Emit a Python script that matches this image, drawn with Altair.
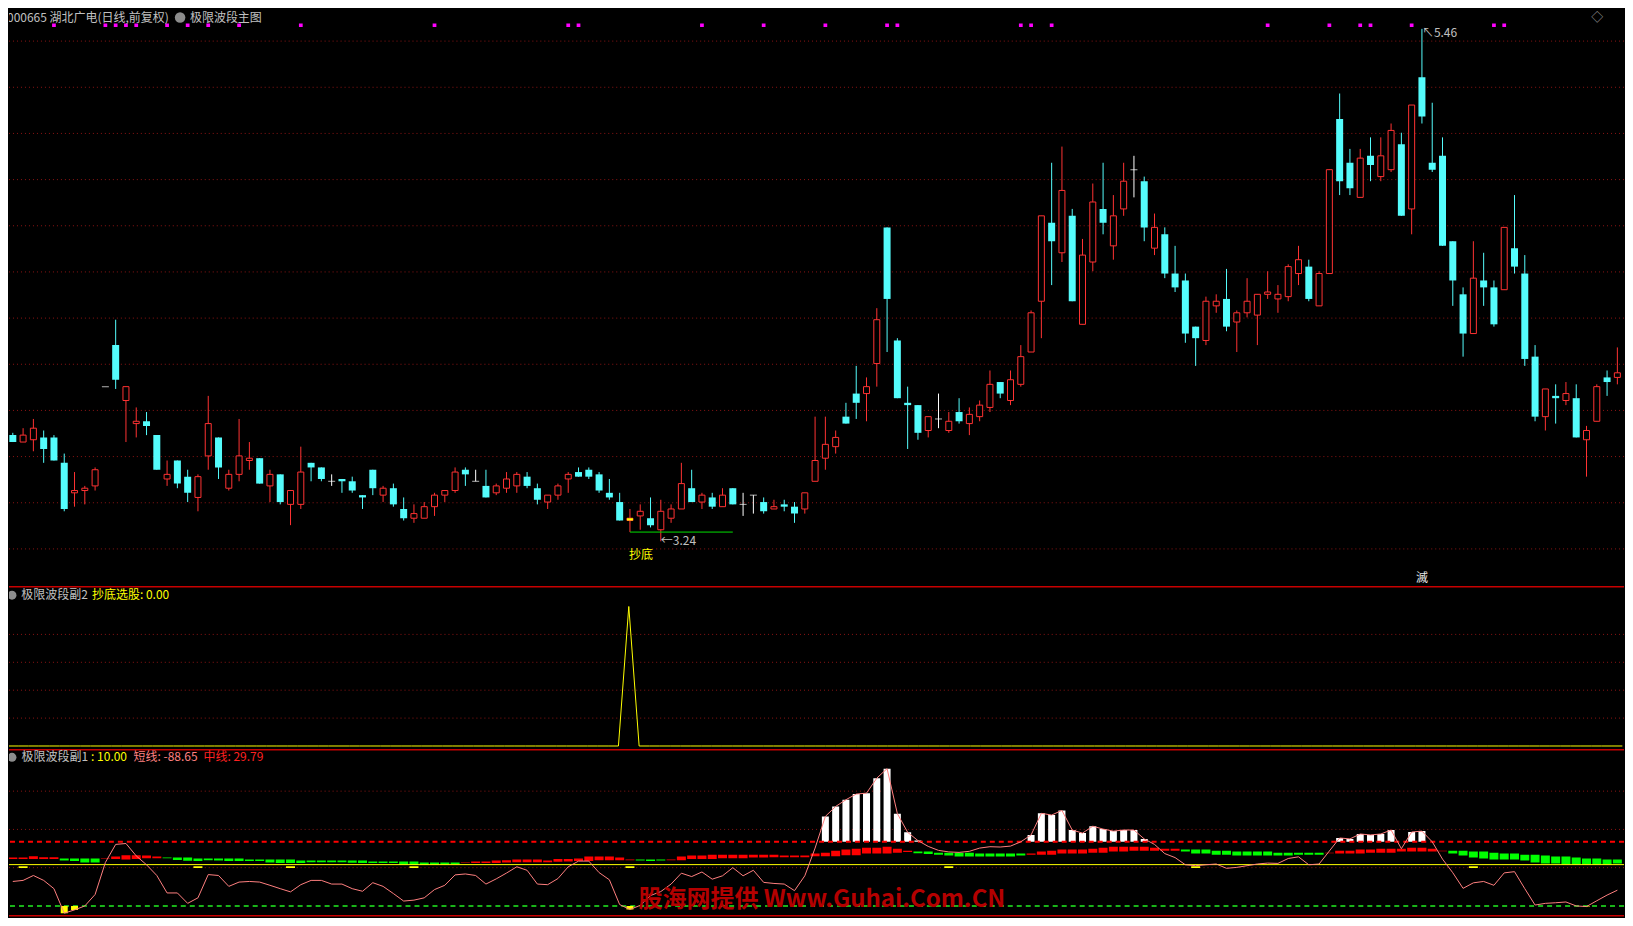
import altair as alt
import numpy as np
import pandas as pd

# ---------------- data ----------------
opens = [3.70,3.67,3.68,3.69,3.69,3.58,3.45,3.46,3.48,3.91,
4.09,3.85,3.75,3.76,3.70,3.51,3.59,3.52,3.43,3.61,
3.69,3.47,3.53,3.59,3.60,3.48,3.53,3.40,3.40,3.58,
3.56,3.50,3.51,3.50,3.44,3.55,3.44,3.47,3.38,3.34,
3.34,3.39,3.44,3.46,3.55,3.50,3.48,3.45,3.47,3.48,
3.52,3.47,3.41,3.44,3.51,3.54,3.55,3.53,3.45,3.41,
3.33,3.35,3.34,3.29,3.34,3.38,3.47,3.41,3.43,3.39,
3.47,3.40,3.44,3.41,3.38,3.40,3.39,3.38,3.50,3.60,
3.65,3.78,3.88,3.88,4.01,4.60,4.11,3.84,3.83,3.72,
3.77,3.72,3.80,3.75,3.78,3.82,3.93,3.85,3.92,4.06,
4.28,4.62,4.49,4.65,4.18,4.45,4.68,4.52,4.68,4.85,
4.80,4.51,4.57,4.40,4.37,4.17,4.11,4.26,4.29,4.19,
4.23,4.22,4.31,4.29,4.30,4.40,4.43,4.26,4.40,5.07,
4.88,4.73,4.91,4.82,4.85,4.96,4.68,5.25,4.88,4.91,
4.54,4.31,4.14,4.37,4.34,4.33,4.51,4.40,4.04,3.78,
3.87,3.85,3.86,3.68,3.76,3.95,3.95]

highs = [3.71,3.73,3.77,3.72,3.70,3.62,3.54,3.48,3.56,3.91,
4.20,3.91,3.82,3.80,3.70,3.59,3.59,3.55,3.53,3.87,
3.69,3.55,3.77,3.67,3.60,3.55,3.53,3.46,3.65,3.58,
3.56,3.53,3.51,3.52,3.44,3.55,3.48,3.49,3.43,3.40,
3.41,3.45,3.46,3.56,3.56,3.55,3.55,3.49,3.54,3.54,
3.54,3.49,3.44,3.49,3.54,3.56,3.56,3.54,3.51,3.45,
3.38,3.40,3.43,3.42,3.40,3.58,3.55,3.45,3.45,3.47,
3.47,3.45,3.44,3.43,3.42,3.42,3.41,3.45,3.78,3.78,
3.72,3.84,4.00,3.95,4.25,4.60,4.12,3.91,3.83,3.78,
3.88,3.80,3.86,3.82,3.85,3.98,3.93,3.98,4.09,4.24,
4.65,4.88,4.95,4.68,4.55,4.79,4.88,4.74,4.88,4.91,
4.82,4.66,4.60,4.52,4.40,4.17,4.30,4.31,4.42,4.24,
4.38,4.31,4.41,4.35,4.44,4.52,4.46,4.41,4.85,5.18,
4.94,4.94,4.99,4.99,5.05,5.01,5.13,5.46,5.14,4.99,
4.54,4.34,4.54,4.49,4.37,4.60,4.74,4.48,4.09,3.90,
3.92,3.93,3.92,3.74,3.92,3.98,4.08]

lows = [3.67,3.67,3.63,3.58,3.59,3.37,3.39,3.40,3.46,3.91,
3.90,3.67,3.69,3.70,3.55,3.48,3.47,3.41,3.37,3.55,
3.51,3.46,3.50,3.55,3.49,3.41,3.40,3.31,3.38,3.50,
3.50,3.48,3.45,3.45,3.38,3.44,3.41,3.39,3.33,3.32,
3.34,3.35,3.41,3.45,3.48,3.50,3.43,3.44,3.45,3.45,
3.47,3.40,3.38,3.42,3.45,3.52,3.51,3.45,3.42,3.33,
3.28,3.29,3.30,3.24,3.32,3.38,3.41,3.38,3.38,3.39,
3.40,3.35,3.36,3.36,3.38,3.37,3.32,3.36,3.50,3.55,
3.62,3.75,3.77,3.76,3.91,4.06,3.86,3.64,3.68,3.69,
3.73,3.71,3.75,3.70,3.76,3.80,3.86,3.83,3.91,4.06,
4.12,4.35,4.45,4.28,4.18,4.41,4.57,4.46,4.65,4.73,
4.54,4.48,4.38,4.32,4.10,4.00,4.09,4.23,4.15,4.06,
4.21,4.09,4.29,4.23,4.28,4.35,4.28,4.26,4.40,4.74,
4.74,4.73,4.80,4.80,4.84,4.65,4.57,5.05,4.84,4.52,
4.26,4.04,4.14,4.26,4.17,4.33,4.40,4.00,3.76,3.72,
3.75,3.83,3.69,3.52,3.76,3.87,3.92]

closes = [3.67,3.70,3.73,3.64,3.59,3.38,3.46,3.47,3.55,3.91,
3.94,3.91,3.76,3.74,3.55,3.53,3.49,3.45,3.52,3.75,
3.56,3.53,3.61,3.60,3.49,3.53,3.41,3.46,3.54,3.56,
3.51,3.50,3.50,3.46,3.43,3.47,3.47,3.40,3.34,3.36,
3.39,3.44,3.46,3.54,3.53,3.50,3.43,3.48,3.51,3.53,
3.48,3.42,3.44,3.48,3.53,3.52,3.52,3.46,3.43,3.33,
3.34,3.37,3.31,3.37,3.38,3.49,3.41,3.44,3.39,3.44,
3.40,3.40,3.44,3.37,3.39,3.39,3.36,3.45,3.59,3.66,
3.69,3.75,3.84,3.91,4.20,4.29,3.86,3.83,3.71,3.78,
3.77,3.76,3.76,3.79,3.83,3.92,3.88,3.94,4.04,4.23,
4.65,4.54,4.76,4.28,4.48,4.71,4.62,4.65,4.80,4.85,
4.60,4.60,4.40,4.34,4.14,4.12,4.28,4.28,4.17,4.23,
4.28,4.31,4.32,4.31,4.43,4.46,4.29,4.40,4.85,4.80,
4.77,4.90,4.87,4.91,5.02,4.65,5.13,5.08,4.85,4.52,
4.37,4.14,4.38,4.34,4.18,4.60,4.43,4.03,3.78,3.90,
3.86,3.88,3.69,3.72,3.91,3.93,3.97]

# magenta signal dots along the top of the main chart
top_signal_idx = [4, 9, 10, 11, 12, 15, 17, 19, 22, 28, 41, 54, 55, 67, 73, 79,
                  85, 86, 98, 99, 101, 122, 128, 131, 132, 136, 144, 145]
buy_idx = 60            # 抄底 signal bar
support_end_idx = 70    # green support line end
low_idx = 63            # lowest low 3.24
high_idx = 137          # highest high 5.46
main_grid = [3.207, 3.407, 3.607, 3.807, 4.007, 4.207, 4.407, 4.607, 4.807, 5.007, 5.207, 5.407]

# sub panel 2 (抄底选股)
pick_signal_idx = [60]
pick_grid = [0.2, 0.4, 0.6, 0.8]

# sub panel 1 (短线 line, 中线 sticks)
short_line = [16.0,16.7,19.9,16.7,11.3,-4.7,-2.6,0.0,7.5,28.4,
40.2,40.8,32.7,26.9,19.9,8.5,8.5,1.7,5.3,20.5,
19.9,12.8,15.6,16.0,15.6,13.5,11.3,9.2,13.9,16.7,
16.7,14.3,14.3,11.3,9.6,15.2,12.8,8.1,3.2,3.8,
5.3,10.7,13.5,20.3,20.9,19.9,14.3,17.7,21.5,25.6,
23.3,14.3,13.9,17.9,25.6,29.3,29.3,21.8,17.1,0.9,
-2.3,0.4,6.8,9.4,14.3,21.4,19.2,22.2,17.5,19.7,
25.0,19.7,23.3,15.4,14.7,14.3,10.0,19.7,37.8,58.5,
65.0,69.4,73.1,73.7,83.5,89.7,60.3,48.1,42.7,38.9,
36.3,35.3,35.0,35.7,37.8,38.7,38.5,39.1,41.9,46.4,
60.5,59.4,62.4,49.6,47.6,52.1,50.2,48.9,49.6,49.6,
43.8,40.2,34.2,31.6,26.9,26.3,26.9,27.4,24.6,25.2,
26.3,27.4,28.0,27.8,31.0,32.1,26.9,27.4,35.9,44.4,
43.8,47.0,46.4,47.0,49.6,37.4,48.3,48.9,41.9,30.6,
21.7,11.5,15.1,16.0,13.5,21.6,22.4,11.3,0.6,1.7,
2.1,2.6,0.0,-0.4,3.4,7.1,10.3]

mid_top = [31.6,31.6,32.5,31.8,31.8,31.0,31.0,31.0,31.0,31.0,
32.3,33.1,33.1,32.9,32.3,31.6,31.6,31.6,31.0,31.0,
31.0,31.0,31.0,30.3,30.3,30.3,30.3,30.3,29.7,29.7,
29.7,29.7,29.7,29.7,29.7,29.1,29.1,29.1,29.1,29.1,
28.4,28.4,28.4,28.4,28.4,29.1,29.1,29.7,29.9,30.3,
30.3,30.3,29.7,30.6,30.6,31.0,32.3,32.3,32.3,31.6,
30.3,30.3,30.3,30.3,30.3,32.3,32.9,32.9,33.5,33.5,
33.5,33.5,33.5,33.5,33.5,32.9,32.9,32.9,34.2,34.8,
36.1,36.8,37.4,38.0,38.0,38.7,37.4,36.1,35.5,35.5,
34.8,34.8,34.8,34.8,34.2,34.2,34.2,34.2,34.2,34.2,
35.5,36.1,36.8,36.8,36.8,37.4,38.0,38.7,38.7,38.7,
38.7,38.0,37.4,37.4,36.8,36.8,36.8,36.1,36.1,35.5,
35.5,35.5,35.5,34.8,34.8,34.8,34.8,34.8,34.8,36.1,
36.1,36.8,36.8,37.4,37.4,37.4,38.0,38.0,37.4,36.1,
36.1,36.1,35.5,35.5,34.8,34.2,34.2,33.5,33.5,32.9,
32.3,32.3,31.6,31.0,31.0,30.3,30.3]

mid_bot = [30.6,30.6,30.6,30.6,30.6,29.7,29.3,28.4,28.4,30.6,
30.6,30.3,30.6,31.2,31.2,31.2,30.1,29.5,29.3,29.9,
29.7,29.3,29.3,29.3,29.3,28.4,28.0,28.0,28.0,28.6,
28.6,28.6,28.6,28.2,28.0,28.0,28.0,28.0,27.1,26.7,
26.9,27.1,27.1,27.4,28.0,28.0,28.0,28.0,28.4,28.6,
28.6,28.6,28.6,28.8,29.1,29.3,29.3,29.9,29.9,29.9,
29.9,29.7,29.3,29.7,29.9,29.9,30.6,30.6,30.6,31.2,
31.2,31.2,31.6,31.6,31.8,31.8,31.8,31.8,32.5,32.5,
32.5,33.1,33.1,34.2,34.2,34.2,34.8,35.3,34.4,34.0,
33.5,32.9,32.3,32.3,32.3,32.3,32.3,32.3,32.9,33.5,
33.5,33.5,34.2,34.2,34.2,34.8,34.8,35.5,35.5,36.1,
36.1,36.1,36.1,36.1,35.5,34.2,34.2,33.5,33.5,32.9,
32.9,32.9,32.9,32.9,32.9,33.5,33.5,33.5,34.4,34.2,
34.2,34.2,34.8,34.8,34.8,35.5,35.5,35.5,35.5,35.7,
34.2,32.9,31.6,31.0,30.3,30.3,30.3,29.7,28.4,27.8,
27.8,27.1,27.1,27.1,27.1,27.1,27.8]

# runs of (length, rising?) for the 中线 stick colours
mid_dir_runs = [(5, 1), (4, 0), (6, 1), (29, 0), (17, 1), (3, 0),
                (24, 1), (11, 0), (15, 1), (14, 0), (12, 1), (17, 0)]
sub1_signal_idx = [1, 18, 27, 39, 60, 91, 115, 142]
sub1_grid = [25, 50, 75]
upper_level = 42      # red dashed
mid_level = 27        # yellow line
lower_level = 0       # green dashed

# ---------------- layout ----------------
W = 1617
H_MAIN, H_SUB2, H_SUB1 = 578, 163, 169
SX = W / 1633.0
SY = 910 / 926.0
FONT = "Noto Sans CJK SC"
UP, DOWN, FLAT = "#ff3232", "#54fcfc", "#ffffff"
GRID = "#8c1414"
SEP = "#c80000"
GRAY = "#c0c0c0"

N = len(opens)
xs = alt.Scale(domain=[0.115, 156.16], nice=False, zero=False)
X = alt.X("i:Q", scale=xs, axis=None)
ps = alt.Scale(domain=[3.047, 5.548], nice=False, zero=False)
s2 = alt.Scale(domain=[-0.019, 1.148], nice=False, zero=False)
s1 = alt.Scale(domain=[-7.5, 102.76], nice=False, zero=False)


def label(text, x, y, color, size=12, align="left", weight="normal"):
    return alt.Chart(pd.DataFrame({"t": [text]})).mark_text(
        align=align, baseline="middle", color=color, fontSize=size,
        font=FONT, fontWeight=weight, clip=True
    ).encode(x=alt.value(x), y=alt.value(y), text="t:N")


# ---------------- main panel ----------------
df = pd.DataFrame({"i": range(N), "open": opens, "high": highs, "low": lows, "close": closes})
df["kind"] = np.where(df.close > df.open, "up", np.where(df.close < df.open, "down", "flat"))
df["btop"] = df[["open", "close"]].max(axis=1)
df["bbot"] = df[["open", "close"]].min(axis=1)
kind_color = alt.Color("kind:N", scale=alt.Scale(domain=["up", "down", "flat"],
                                                 range=[UP, DOWN, FLAT]), legend=None)
base = alt.Chart(df)

grid_main = alt.Chart(pd.DataFrame({"p": main_grid})).mark_rule(
    color=GRID, strokeDash=[1, 3], strokeWidth=1).encode(y=alt.Y("p:Q", scale=ps, axis=None))

wicks = base.mark_rule(strokeWidth=1, clip=True).encode(
    x=X, y=alt.Y("low:Q", scale=ps, axis=None), y2="high:Q", color=kind_color)
body_up = base.transform_filter("datum.kind == 'up'").mark_bar(
    size=6, fill="black", stroke=UP, strokeWidth=1, clip=True).encode(
    x=X, y=alt.Y("bbot:Q", scale=ps, axis=None), y2="btop:Q")
body_dn = base.transform_filter("datum.kind == 'down'").mark_bar(
    size=7, color=DOWN, clip=True).encode(
    x=X, y=alt.Y("bbot:Q", scale=ps, axis=None), y2="btop:Q")
body_flat = base.transform_filter("datum.kind == 'flat'").mark_tick(
    orient="horizontal", size=7, thickness=1, color=FLAT, clip=True).encode(
    x=X, y=alt.Y("open:Q", scale=ps, axis=None))
body_buy = base.transform_filter(f"datum.i == {buy_idx}").mark_bar(
    size=6, color="#ffff00", clip=True).encode(
    x=X, y=alt.Y("bbot:Q", scale=ps, axis=None), y2="btop:Q")

dots = alt.Chart(pd.DataFrame({"i": top_signal_idx})).mark_square(
    size=14, color="#ff00ff", opacity=1, clip=True).encode(x=X, y=alt.value(17 * SY))

support = alt.Chart(pd.DataFrame({"i": [buy_idx], "i2": [support_end_idx], "p": [lows[buy_idx]]})).mark_rule(
    color="#00e000", strokeWidth=1, clip=True).encode(
    x=X, x2="i2:Q", y=alt.Y("p:Q", scale=ps, axis=None))

low_lbl = alt.Chart(pd.DataFrame({"i": [low_idx], "p": [lows[low_idx]],
                                  "t": [f"←{lows[low_idx]:.2f}"]})).mark_text(
    align="left", baseline="middle", color=GRAY, fontSize=12, font=FONT, clip=True).encode(
    x=X, y=alt.Y("p:Q", scale=ps, axis=None), text="t:N")
high_lbl = alt.Chart(pd.DataFrame({"i": [high_idx], "p": [highs[high_idx]],
                                   "t": [f"↖{highs[high_idx]:.2f}"]})).mark_text(
    align="left", baseline="middle", color=GRAY, fontSize=12, font=FONT, dy=4, clip=True).encode(
    x=X, y=alt.Y("p:Q", scale=ps, axis=None), text="t:N")
buy_lbl = alt.Chart(pd.DataFrame({"i": [buy_idx], "p": [lows[buy_idx]], "t": ["抄底"]})).mark_text(
    align="left", baseline="middle", color="#ffff00", fontSize=12, font=FONT, dy=23, dx=-1, clip=True).encode(
    x=X, y=alt.Y("p:Q", scale=ps, axis=None), text="t:N")
top_lbl = alt.Chart(pd.DataFrame({"i": [high_idx], "t": ["滅"]})).mark_text(
    align="center", baseline="middle", color="#e8e8e8", fontSize=12, font=FONT, clip=True).encode(
    x=X, y=alt.value(580 * SY), text="t:N")

HY = 9
main = alt.layer(
    grid_main, wicks, body_up, body_dn, body_flat, body_buy, dots, support,
    low_lbl, high_lbl, buy_lbl, top_lbl,
    label("000665 湖北广电(日线,前复权)", -2, HY, GRAY),
    alt.Chart(pd.DataFrame({"a": [0]})).mark_circle(size=110, color="#8c8c8c", opacity=1, clip=True).encode(
        x=alt.value(173 * SX), y=alt.value(HY)),
    label("极限波段主图", 183 * SX, HY, GRAY),
    label("◇", 1606 * SX, HY, "#9a9a9a", align="center"),
).properties(width=W, height=H_MAIN)

# ---------------- sub panel 2 ----------------
d2 = pd.DataFrame({"i": range(N), "v": [1.0 if k in pick_signal_idx else 0.0 for k in range(N)]})
grid2 = alt.Chart(pd.DataFrame({"g": pick_grid})).mark_rule(
    color=GRID, strokeDash=[1, 3], strokeWidth=1).encode(y=alt.Y("g:Q", scale=s2, axis=None))
line2 = alt.Chart(d2).mark_line(color="#ffff00", strokeWidth=1, clip=True).encode(
    x=X, y=alt.Y("v:Q", scale=s2, axis=None))
sep2 = alt.Chart(pd.DataFrame({"a": [0]})).mark_rule(color=SEP, strokeWidth=1.5, clip=True).encode(
    y=alt.value(1))
hy2 = (597 - 588) * SY + 0.5
sub2 = alt.layer(
    grid2, line2, sep2,
    alt.Chart(pd.DataFrame({"a": [0]})).mark_circle(size=80, color="#8c8c8c", opacity=1, clip=True).encode(
        x=alt.value(3), y=alt.value(hy2)),
    label("极限波段副2", 12.5 * SX, hy2, GRAY),
    label("抄底选股: 0.00", 84 * SX, hy2, "#ffff00"),
).properties(width=W, height=H_SUB2)

# ---------------- sub panel 1 ----------------
rising = []
for length, r in mid_dir_runs:
    rising += ["rise" if r else "fall"] * length
d1 = pd.DataFrame({"i": range(N), "s": short_line, "mt": mid_top, "mb": mid_bot, "dir": rising})
d1["upper"] = upper_level
d1["zero"] = lower_level

grid1 = alt.Chart(pd.DataFrame({"g": sub1_grid})).mark_rule(
    color=GRID, strokeDash=[1, 3], strokeWidth=1).encode(y=alt.Y("g:Q", scale=s1, axis=None))
band = alt.Chart(d1).mark_bar(size=9, clip=True).encode(
    x=X, y=alt.Y("mb:Q", scale=s1, axis=None), y2="mt:Q",
    color=alt.Color("dir:N", scale=alt.Scale(domain=["rise", "fall"], range=["#ff0000", "#00ff00"]),
                    legend=None))
white_bars = alt.Chart(d1).transform_filter(f"datum.s > {upper_level}").mark_bar(
    size=7, color="#ffffff", clip=True).encode(
    x=X, y=alt.Y("upper:Q", scale=s1, axis=None), y2="s:Q")
neg_bars = alt.Chart(d1).transform_filter(f"datum.s < {lower_level}").mark_bar(
    size=7, color="#ffff00", clip=True).encode(
    x=X, y=alt.Y("zero:Q", scale=s1, axis=None), y2="s:Q")
sig_marks = alt.Chart(pd.DataFrame({"i": sub1_signal_idx, "a": [24.8] * len(sub1_signal_idx),
                                    "b": [25.9] * len(sub1_signal_idx)})).mark_bar(
    size=9, color="#ffff00", clip=True).encode(x=X, y=alt.Y("a:Q", scale=s1, axis=None), y2="b:Q")
red_dash = alt.Chart(pd.DataFrame({"v": [upper_level]})).mark_rule(
    color="#ff0000", strokeWidth=2, strokeDash=[5, 4]).encode(y=alt.Y("v:Q", scale=s1, axis=None))
yellow_line = alt.Chart(pd.DataFrame({"v": [mid_level]})).mark_rule(
    color="#ffff00", strokeWidth=1).encode(y=alt.Y("v:Q", scale=s1, axis=None))
green_dash = alt.Chart(pd.DataFrame({"v": [lower_level]})).mark_rule(
    color="#22ee22", strokeWidth=1.5, strokeDash=[5, 4]).encode(y=alt.Y("v:Q", scale=s1, axis=None))
pink = alt.Chart(d1).mark_line(color="#ff8080", strokeWidth=1, clip=True).encode(
    x=X, y=alt.Y("s:Q", scale=s1, axis=None))
sep1 = alt.Chart(pd.DataFrame({"a": [0]})).mark_rule(color=SEP, strokeWidth=1.5, clip=True).encode(
    y=alt.value(1))
sep1b = alt.Chart(pd.DataFrame({"a": [0]})).mark_rule(color=SEP, strokeWidth=1.5, clip=True).encode(
    y=alt.value((924.3 - 754) * SY))
hy1 = (762.3 - 754) * SY + 0.5
sub1 = alt.layer(
    grid1, band, white_bars, red_dash, yellow_line, green_dash, neg_bars, sig_marks, pink,
    sep1, sep1b,
    alt.Chart(pd.DataFrame({"a": [0]})).mark_circle(size=80, color="#8c8c8c", opacity=1, clip=True).encode(
        x=alt.value(3), y=alt.value(hy1)),
    label("极限波段副1", 12.7 * SX, hy1, GRAY),
    label(": 10.00", 83 * SX, hy1, "#ffff00"),
    label("短线: -88.65", 126 * SX, hy1, "#ff8080"),
    label("中线: 29.79", 196.7 * SX, hy1, "#ff2020"),
    label("股海网提供 Www.Guhai.Com.CN", 822 * SX, (908 - 754) * SY, "#b40000",
          size=24, align="center", weight="bold"),
).properties(width=W, height=H_SUB1)

chart = alt.vconcat(main, sub2, sub1, spacing=0, bounds="flush").properties(
    padding=0, background="black"
).resolve_scale(color="independent").configure_view(strokeWidth=0)

chart.save("out.html", embed_options={"renderer": "svg", "actions": False})
